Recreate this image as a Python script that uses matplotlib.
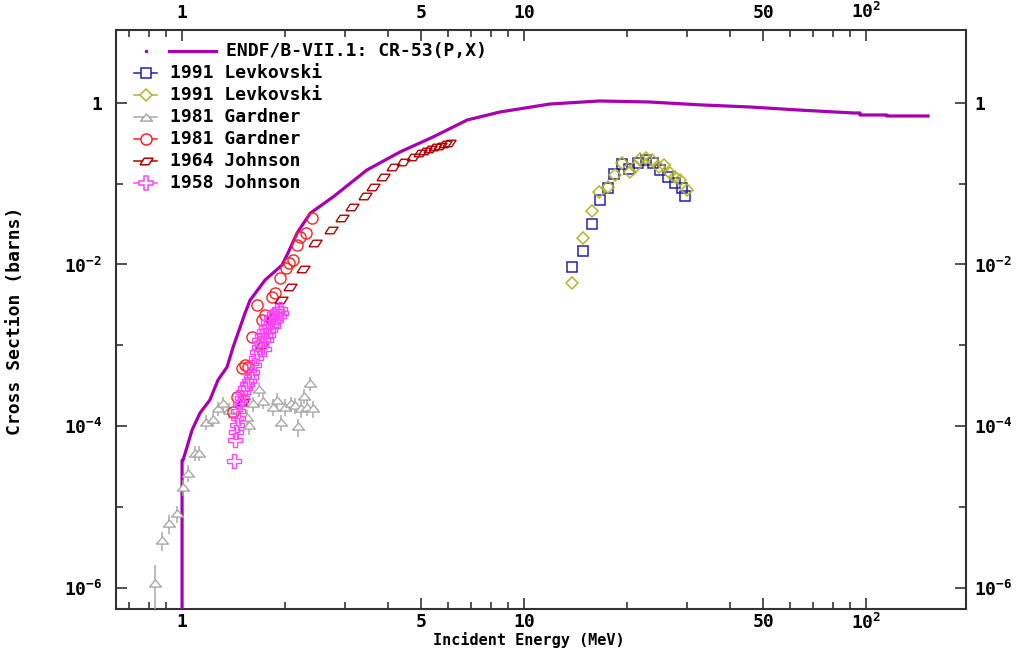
import matplotlib
matplotlib.use('Agg')
import matplotlib.pyplot as plt
from matplotlib.ticker import FixedLocator, FixedFormatter, NullFormatter
from matplotlib.lines import Line2D

# ---------------- data ----------------
endf_e = [1.0, 1.0, 1.007, 1.034, 1.070, 1.129, 1.206, 1.274, 1.354, 1.410, 1.528, 1.58,
          1.748, 1.959, 2.04, 2.17, 2.37, 2.76, 3.47, 4.34, 5.42, 6.82, 8.50, 11.9, 16.6,
          23.3, 32.7, 45.7, 64.1, 92.0, 96.0, 96.0, 115.0, 115.0, 151.8]
endf_xs = [1e-8, 3.8e-5, 3.83e-5, 5.54e-5, 9.0e-5, 1.46e-4, 2.11e-4, 3.73e-4, 5.4e-4, 9.5e-4,
           2.5e-3, 3.6e-3, 6.4e-3, 9.8e-3, 1.38e-2, 2.45e-2, 4.3e-2, 6.8e-2, 0.147, 0.246,
           0.377, 0.611, 0.767, 0.963, 1.05, 1.02, 0.94, 0.885, 0.81, 0.746, 0.746, 0.705,
           0.705, 0.685, 0.685]

lev_sq_e = [13.79, 14.85, 15.81, 16.68, 17.64, 18.33, 19.31, 20.32, 21.59, 22.74, 23.88,
            24.99, 26.42, 27.64, 28.92, 29.57]
lev_sq_xs = [9.4e-3, 1.48e-2, 3.17e-2, 6.27e-2, 8.9e-2, 0.130, 0.175, 0.151, 0.179, 0.196,
             0.182, 0.147, 0.122, 0.101, 0.087, 0.070]

lev_di_e = [13.79, 14.85, 15.79, 16.61, 17.64, 18.46, 19.31, 20.40, 21.09, 21.80, 22.74,
            23.67, 24.82, 25.74, 26.78, 27.64, 28.56, 29.92]
lev_di_xs = [5.96e-3, 2.11e-2, 4.62e-2, 7.94e-2, 9.1e-2, 0.128, 0.178, 0.140, 0.162, 0.200,
             0.205, 0.196, 0.162, 0.170, 0.134, 0.120, 0.111, 0.083]

gar_tri_e = [0.834, 0.872, 0.918, 0.965, 1.009, 1.043, 1.091, 1.121, 1.175, 1.235, 1.277,
             1.321, 1.375, 1.468, 1.546, 1.570, 1.617, 1.679, 1.729, 1.840, 1.896, 1.948,
             2.000, 2.077, 2.139, 2.188, 2.228, 2.274, 2.319, 2.366, 2.407]
gar_tri_xs = [1.15e-6, 3.9e-6, 6.3e-6, 8.4e-6, 1.79e-5, 2.67e-5, 4.7e-5, 4.7e-5, 1.14e-4,
              1.22e-4, 1.67e-4, 1.92e-4, 1.59e-4, 2.05e-4, 1.31e-4, 1.04e-4, 1.92e-4, 2.89e-4,
              2.07e-4, 1.75e-4, 2.11e-4, 1.13e-4, 1.75e-4, 1.91e-4, 1.83e-4, 9.95e-5, 1.68e-4,
              2.37e-4, 1.75e-4, 3.4e-4, 1.68e-4]
gar_tri_dxs = [0.8e-6, 1.0e-6, 1.6e-6, 2.0e-6, 4e-6, 6e-6, 1.0e-5, 1.0e-5, 2.5e-5, 2.5e-5,
               3.5e-5, 4e-5, 3.5e-5, 4.5e-5, 3e-5, 2.5e-5, 4e-5, 6e-5, 4.5e-5, 4e-5, 4.5e-5,
               2.5e-5, 4e-5, 4e-5, 4e-5, 2.5e-5, 4e-5, 5e-5, 4e-5, 7e-5, 4e-5]

gar_ci_e = [2.394, 2.305, 2.213, 2.165, 2.115, 2.059, 2.014, 1.934, 1.870, 1.829, 1.654,
            1.748, 1.710, 1.599, 1.495, 1.528, 1.563, 1.445, 1.413]
gar_ci_xs = [3.72e-2, 2.43e-2, 2.21e-2, 1.74e-2, 1.14e-2, 1.03e-2, 8.98e-3, 6.8e-3, 4.41e-3,
             4.0e-3, 3.16e-3, 2.38e-3, 2.06e-3, 1.28e-3, 5.21e-4, 5.73e-4, 5.46e-4, 2.32e-4,
             1.51e-4]

joh64_e = [1.511, 1.713, 1.833, 1.947, 2.069, 2.262, 2.448, 2.721, 2.931, 3.135, 3.428,
           3.626, 3.879, 4.148, 4.436, 4.746, 4.966, 5.135, 5.311, 5.494, 5.680, 5.875, 6.047]
joh64_xs = [1.97e-4, 1.01e-3, 2.18e-3, 3.64e-3, 5.32e-3, 8.72e-3, 1.83e-2, 2.67e-2, 3.72e-2,
            5.09e-2, 7.03e-2, 9.16e-2, 0.1217, 0.1618, 0.1866, 0.2153, 0.237, 0.255, 0.2655,
            0.281, 0.292, 0.309, 0.3204]

joh58_e = [1.414, 1.424, 1.434, 1.443, 1.453, 1.458, 1.477, 1.493, 1.508, 1.528, 1.549,
           1.570, 1.591, 1.602, 1.618, 1.646, 1.657, 1.674, 1.680, 1.702, 1.714, 1.731,
           1.737, 1.755, 1.761, 1.778, 1.784, 1.808, 1.820, 1.845, 1.858, 1.883, 1.896,
           1.921, 1.934, 1.947]
joh58_xs = [3.67e-5, 6.77e-5, 8.51e-5, 1.04e-4, 1.27e-4, 1.55e-4, 1.89e-4, 2.24e-4, 2.65e-4,
            2.97e-4, 3.33e-4, 3.63e-4, 4.07e-4, 4.69e-4, 5.72e-4, 6.98e-4, 8.28e-4, 9.55e-4,
            1.17e-3, 1.07e-3, 1.31e-3, 9.02e-4, 1.50e-3, 1.17e-3, 1.69e-3, 1.34e-3, 1.95e-3,
            1.55e-3, 2.18e-3, 1.73e-3, 2.44e-3, 2.06e-3, 2.66e-3, 2.31e-3, 2.82e-3, 2.51e-3]

x_major = [1, 5, 10, 50, 100]
x_major_labels = ['1', '5', '10', '50', '10$^2$']
x_minor = [0.7, 0.8, 0.9, 2, 3, 4, 6, 7, 8, 9, 20, 30, 40, 60, 70, 80, 90]
y_major = [1e-6, 1e-4, 1e-2, 1]
y_major_labels = ['10$^{-6}$', '10$^{-4}$', '10$^{-2}$', '1']
y_minor = [1e-5, 1e-3, 1e-1]

legend_labels = ['ENDF/B-VII.1: CR-53(P,X)', '1991 Levkovski', '1991 Levkovski',
                 '1981 Gardner', '1981 Gardner', '1964 Johnson', '1958 Johnson']

# ---------------- style ----------------
plt.rcParams['font.family'] = ['DejaVu Sans Mono']
plt.rcParams['font.weight'] = 'bold'
plt.rcParams['mathtext.fontset'] = 'custom'
plt.rcParams['mathtext.rm'] = 'DejaVu Sans Mono:bold'
plt.rcParams['mathtext.default'] = 'rm'

C_ENDF = '#a800b0'
C_SQ = '#2020b0'
C_DI = '#b4b428'
C_TRI = '#a8a8a8'
C_CI = '#ff2020'
C_J64 = '#b00000'
C_J58 = '#ff44ff'
AXC = '#333333'
FS = 13

tri_marker = [(-1, -0.6), (1, -0.6), (0, 0.6), (-1, -0.6)]
par_marker = [(-1, -0.5), (0.35, -0.5), (1, 0.5), (-0.35, 0.5), (-1, -0.5)]

W, H = 1024, 649
fig = plt.figure(figsize=(W / 100, H / 100), dpi=100)
L, R, T, B = 116, 966, 30, 609
ax = fig.add_axes([L / W, (H - B) / H, (R - L) / W, (B - T) / H])
ax.set_xscale('log')
ax.set_yscale('log')

ax.plot(endf_e, endf_xs, color=C_ENDF, lw=2.3, zorder=3)
ax.plot(lev_sq_e, lev_sq_xs, ls='none', marker='s', ms=7.2, mfc='none', mec=C_SQ, mew=1.1, zorder=4)
ax.plot(lev_di_e, lev_di_xs, ls='none', marker='D', ms=6.6, mfc='none', mec=C_DI, mew=1.1, zorder=4)
ax.errorbar(gar_tri_e, gar_tri_xs, yerr=gar_tri_dxs, fmt='none', ecolor=C_TRI, elinewidth=1.1, zorder=4)
ax.plot(gar_tri_e, gar_tri_xs, ls='none', marker=tri_marker, ms=8.6, mfc='white', mec=C_TRI, mew=1.0, zorder=4)
ax.plot(gar_ci_e, gar_ci_xs, ls='none', marker='o', ms=8.0, mfc='none', mec=C_CI, mew=1.0, zorder=5)
ax.plot(joh64_e, joh64_xs, ls='none', marker=par_marker, ms=9.4, mfc='none', mec=C_J64, mew=1.0, zorder=5)
ax.plot(joh58_e, joh58_xs, ls='none', marker='P', ms=9.4, mfc='none', mec=C_J58, mew=1.0, zorder=6)

ax.set_xlim(0.641, 196)
ax.set_ylim(5.5e-7, 7.92)

for s in ax.spines.values():
    s.set_color(AXC)
    s.set_linewidth(1.5)

ax.xaxis.set_major_locator(FixedLocator(x_major))
ax.xaxis.set_major_formatter(NullFormatter())
ax.xaxis.set_minor_locator(FixedLocator(x_minor))
ax.xaxis.set_minor_formatter(NullFormatter())
ax.yaxis.set_major_locator(FixedLocator(y_major))
ax.yaxis.set_major_formatter(NullFormatter())
ax.yaxis.set_minor_locator(FixedLocator(y_minor))
ax.yaxis.set_minor_formatter(NullFormatter())
ax.tick_params(which='both', direction='in', top=True, right=True, bottom=True, left=True,
               color=AXC, width=1.2, labelbottom=False, labelleft=False)
ax.tick_params(which='major', length=8.2)
ax.tick_params(which='minor', length=5.0)

def label_axis(sec, axis, ticks, labels, pad):
    a = sec.xaxis if axis == 'x' else sec.yaxis
    a.set_major_locator(FixedLocator(ticks))
    a.set_major_formatter(FixedFormatter(labels))
    a.set_minor_locator(FixedLocator([]))
    sec.tick_params(which='both', length=0, pad=pad, labelsize=FS)
    for s in sec.spines.values():
        s.set_visible(False)

sb = ax.secondary_xaxis('bottom')
label_axis(sb, 'x', x_major, x_major_labels, 3)
st = ax.secondary_xaxis('top')
label_axis(st, 'x', x_major, x_major_labels, 6)
sl = ax.secondary_yaxis('left')
label_axis(sl, 'y', y_major, y_major_labels, 10)
sr = ax.secondary_yaxis('right')
label_axis(sr, 'y', y_major, y_major_labels, 6)

fig.text(529 / W, 1 - 648.5 / H, 'Incident Energy (MeV)', ha='center', va='bottom', fontsize=11)
fig.text(15 / W, 1 - 321 / H, 'Cross Section (barns)', ha='center', va='center',
         rotation=90, fontsize=FS)

# ---------------- legend (drawn manually) ----------------
def fx(x):
    return x / W

def fy(y):
    return 1 - y / H

rows = [51, 73, 95, 117, 139, 161, 183]
fig.add_artist(Line2D([fx(146)], [fy(rows[0])], ls='none', marker='o', ms=1.5, color=C_ENDF))
fig.add_artist(Line2D([fx(169), fx(216)], [fy(rows[0])] * 2, color=C_ENDF, lw=2.3))
fig.text(fx(226), fy(rows[0]), legend_labels[0], va='center', ha='left', fontsize=FS)

leg_styles = [
    ('s', 7.2, C_SQ),
    ('D', 6.6, C_DI),
    (tri_marker, 8.6, C_TRI),
    ('o', 8.0, C_CI),
    (par_marker, 9.4, C_J64),
    ('P', 9.4, C_J58),
]
for i, (mk, ms, col) in enumerate(leg_styles):
    y = fy(rows[i + 1])
    fig.add_artist(Line2D([fx(134), fx(157)], [y, y], color=col, lw=1.1))
    fig.add_artist(Line2D([fx(146)], [y], ls='none', marker=mk, ms=ms, mfc='white', mec=col, mew=1.1))
    fig.text(fx(170), y, legend_labels[i + 1], va='center', ha='left', fontsize=FS)

fig.savefig('out.png', dpi=100)
